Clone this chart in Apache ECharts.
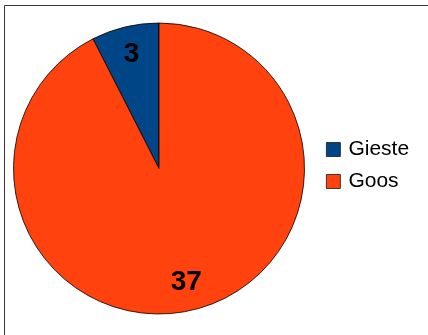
<!DOCTYPE html>
<html>
<head>
<meta charset="utf-8">
<script src="https://cdn.jsdelivr.net/npm/echarts@6/dist/echarts.min.js"></script>
<style>
  html, body { margin: 0; padding: 0; background: #ffffff; }
  #chart { width: 428px; height: 335px; }
</style>
</head>
<body>
<div id="chart"></div>
<script>
// Slice names, values and fill colours
const categories = ['Gieste', 'Goos'];
const values = [3, 37];
const colors = ['#004586', '#ff420e'];

const pieData = categories.map((name, i) => ({
  name: name,
  value: values[i],
  itemStyle: { color: colors[i] }
}));

const FONT = '"Liberation Sans", Arial, sans-serif';
const CENTER = [159, 168.5];
const RADIUS = 145.5;

const chart = echarts.init(document.getElementById('chart'), null, { renderer: 'canvas' });

chart.setOption({
  animation: false,
  backgroundColor: '#ffffff',
  color: colors,
  graphic: [{
    type: 'rect',
    shape: { x: 4.5, y: 5.5, width: 600, height: 600 },
    style: { fill: 'none', stroke: '#3a3a3a', lineWidth: 1 },
    silent: true,
    z: -10
  }],
  legend: {
    orient: 'vertical',
    left: 326,
    top: 139,
    padding: 0,
    itemWidth: 14,
    itemHeight: 14,
    itemGap: 11,
    icon: 'rect',
    itemStyle: { borderColor: '#1a1a1a', borderWidth: 0.8 },
    textStyle: {
      fontFamily: FONT,
      fontSize: 21,
      color: '#000000',
      padding: [0, 0, 0, 3]
    },
    data: categories
  },
  series: [
    {
      // the pie itself
      type: 'pie',
      center: CENTER,
      radius: [0, RADIUS],
      startAngle: 90,
      clockwise: false,
      silent: true,
      label: { show: false },
      labelLine: { show: false },
      itemStyle: { borderColor: '#000000', borderWidth: 0.8 },
      data: pieData
    },
    {
      // transparent ring that carries the value labels
      type: 'pie',
      center: CENTER,
      radius: [83, RADIUS],
      startAngle: 90,
      clockwise: false,
      silent: true,
      legendHoverLink: false,
      itemStyle: { color: 'rgba(0,0,0,0)', borderWidth: 0 },
      label: {
        show: true,
        position: 'inside',
        formatter: '{c}',
        fontFamily: FONT,
        fontSize: 28,
        fontWeight: 'bold',
        color: '#000000'
      },
      labelLine: { show: false },
      data: categories.map((name, i) => ({ name: name + ' ', value: values[i] }))
    }
  ]
});
</script>
</body>
</html>
